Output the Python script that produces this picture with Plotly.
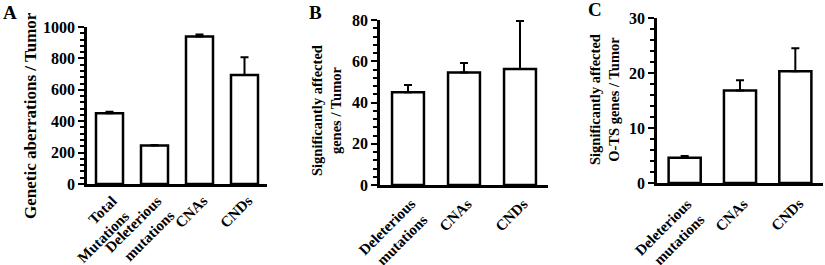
import plotly.graph_objects as go

W, H = 825, 265

# Data
cats_a = ["Total<br>Mutations", "Deleterious<br>mutations", "CNAs", "CNDs"]
vals_a = [450, 245, 940, 695]
err_a = [10, 4, 12, 113]

cats_b = ["Deleterious<br>mutations", "CNAs", "CNDs"]
vals_b = [45.0, 54.5, 56.2]
err_b = [3.5, 4.7, 23.3]

cats_c = ["Deleterious<br>mutations", "CNAs", "CNDs"]
vals_c = [4.6, 16.8, 20.3]
err_c = [0.3, 1.9, 4.2]

FONT = "Liberation Serif"

fig = go.Figure()

# (cats, vals, errs, xaxis, yaxis, x px span, y px span, yrange, dtick, minor dtick, bargap,
#  label dx, label top y, line step)
panels = [
    (cats_a, vals_a, err_a, "x", "y", (87, 267), (27, 184), [0, 1000], 200, 40, 0.4, 1, 194, (12, 15)),
    (cats_b, vals_b, err_b, "x2", "y2", (380, 548), (20, 185), [0, 80], 20, 4, 0.43, 1, 197, (12, 16)),
    (cats_c, vals_c, err_c, "x3", "y3", (657, 823), (18, 183), [0, 30], 10, 2, 0.42, 1, 197, (12, 16)),
]

layout = dict(
    width=W, height=H,
    margin=dict(l=0, r=0, t=0, b=0, autoexpand=False),
    paper_bgcolor="white", plot_bgcolor="white",
    showlegend=False,
    font=dict(family=FONT, size=16, color="black"),
)

annotations = []
for i, (cats, vals, errs, xa, ya, (x0, x1), (ytop, ybot), yr, dt, mdt, gap, ldx, ly, (sx, sy)) in enumerate(panels):
    fig.add_trace(go.Bar(
        x=cats, y=vals, xaxis=xa, yaxis=ya,
        marker=dict(color="white", line=dict(color="black", width=2.5)),
        error_y=dict(type="data", array=errs, arrayminus=[0] * len(errs),
                     symmetric=False, color="black", thickness=2, width=4),
        width=1 - gap,
    ))
    suffix = "" if i == 0 else str(i + 1)
    layout["xaxis" + suffix] = dict(
        domain=[x0 / W, x1 / W], anchor=ya, automargin=False,
        showline=True, linecolor="black", linewidth=2.5,
        ticks="", showticklabels=False, showgrid=False, zeroline=False,
        range=[-0.5, len(cats) - 0.5], fixedrange=True,
    )
    layout["yaxis" + suffix] = dict(
        domain=[(H - ybot) / H, (H - ytop) / H], anchor=xa, automargin=False,
        range=yr, showline=True, linecolor="black", linewidth=2.5,
        ticks="outside", ticklen=6, tickwidth=2, tickcolor="black",
        dtick=dt, tick0=0, showgrid=False, zeroline=False,
        minor=dict(ticks="outside", ticklen=4, tickwidth=1.5, tickcolor="black", dtick=mdt, tick0=0),
        tickfont=dict(family=FONT, size=16, color="black", weight="bold"),
        fixedrange=True,
    )
    # rotated category labels, one annotation per text line
    for ci, cat in enumerate(cats):
        for k, line in enumerate(cat.split("<br>")):
            annotations.append(dict(
                text="<b>" + line + "</b>", xref=xa, yref="paper",
                x=ci, y=1 - (ly - 4.2) / H,
                xanchor="right", yanchor="top", textangle=-45,
                xshift=ldx + 12.4 + k * sx, yshift=-k * sy,
                showarrow=False, font=dict(family=FONT, size=15, color="black"),
            ))

for txt, x, y in [("<b>A</b>", 10, 13), ("<b>B</b>", 315, 13), ("<b>C</b>", 595, 10)]:
    annotations.append(dict(text=txt, x=x / W, y=1 - y / H, xref="paper", yref="paper",
                            xanchor="center", yanchor="middle", showarrow=False,
                            font=dict(family=FONT, size=19, color="black")))

for t, x, y, s in [
    ("<b>Genetic aberrations / Tumor</b>", 30, 116, 17),
    ("<b>Significantly affected<br>genes / Tumor</b>", 326, 111, 14.5),
    ("<b>Significantly affected<br>O-TS genes / Tumor</b>", 604, 100, 14.5),
]:
    annotations.append(dict(text=t, x=x / W, y=1 - y / H, xref="paper", yref="paper",
                            xanchor="center", yanchor="middle", showarrow=False, textangle=-90,
                            font=dict(family=FONT, size=s, color="black")))

layout["annotations"] = annotations
fig.update_layout(**layout)

fig.write_html("out.html", config={"displayModeBar": False},
               post_script="document.body.style.margin='0';document.body.style.overflow='hidden';")
